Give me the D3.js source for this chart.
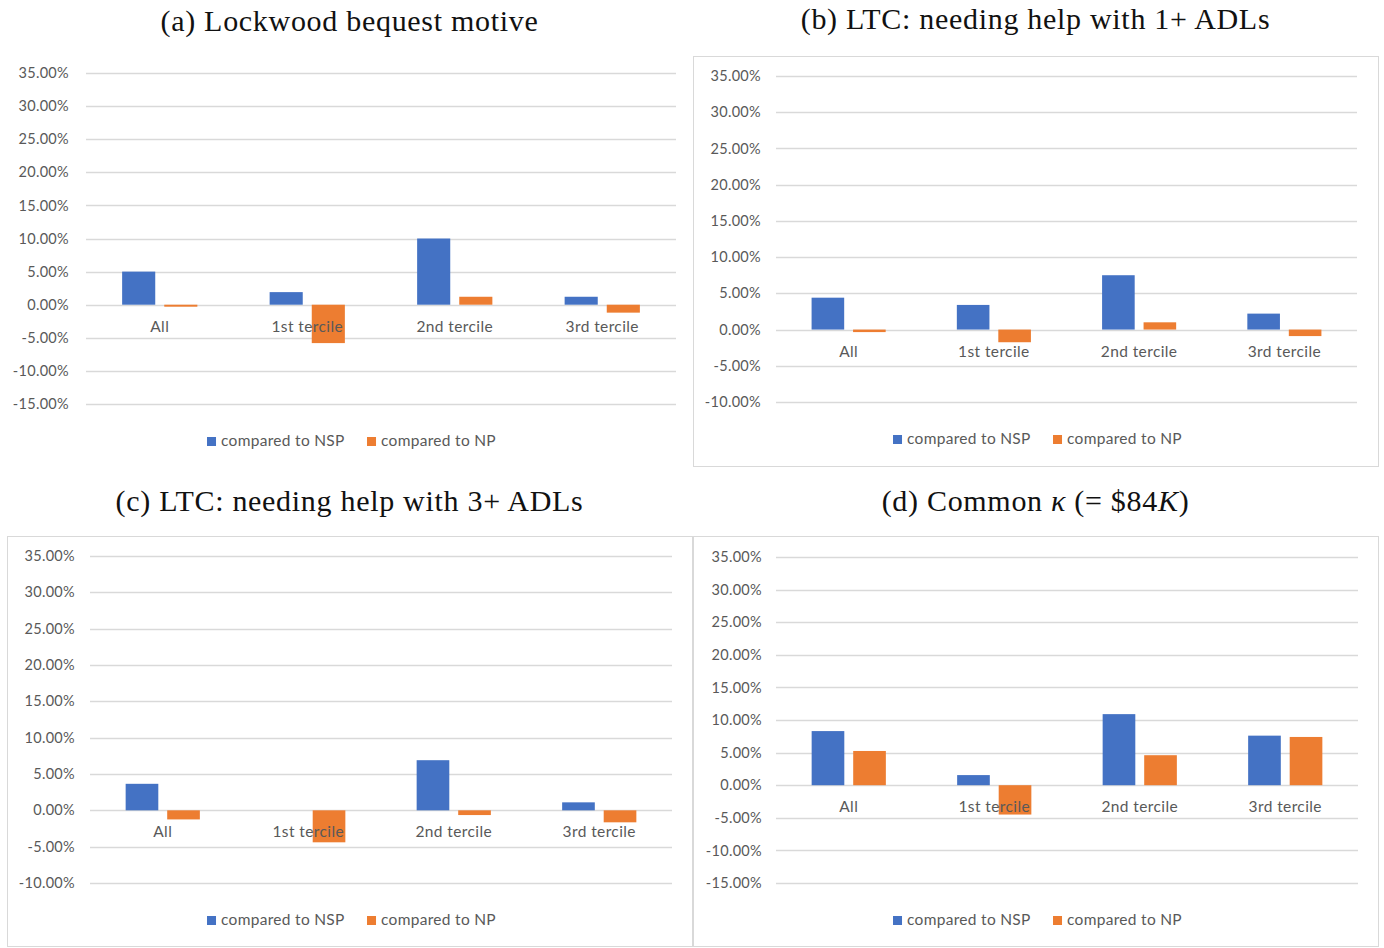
<!DOCTYPE html>
<html>
<head>
<meta charset="utf-8">
<script src="https://cdn.jsdelivr.net/npm/d3@7"></script>
<style>
  body { margin: 0; background: #fff; }
  .tick text { font-family: Lato, "Open Sans", sans-serif; fill: #595959; letter-spacing: 0.3px; }
</style>
</head>
<body>
<div id="chart"></div>
<script>
// data (percent)
var categories = ["All", "1st tercile", "2nd tercile", "3rd tercile"];
var series = ["compared to NSP", "compared to NP"];
var colors = ["#4472C4", "#ED7D31"];

var nspA = [5.0, 1.9, 10.0, 1.2],  npA = [-0.3, -5.8, 1.2, -1.2];
var nspB = [4.4, 3.4, 7.5, 2.2],   npB = [-0.35, -1.75, 1.0, -0.9];
var nspC = [3.65, 0.0, 6.9, 1.1],  npC = [-1.25, -4.4, -0.65, -1.65];
var nspD = [8.3, 1.55, 10.9, 7.6], npD = [5.25, -4.5, 4.6, 7.4];

var ticksA = [35, 30, 25, 20, 15, 10, 5, 0, -5, -10, -15];
var ticksB = [35, 30, 25, 20, 15, 10, 5, 0, -5, -10];

var W = 1384, H = 948;

var svg = d3.select("#chart").append("svg")
  .attr("width", W).attr("height", H);

// panel layout
var panels = [
  {title: "a", nsp: nspA, np: npA, ticks: ticksA, box: [7, 56, 685, 410], border: false,
   plot: {x0: 86, x1: 676, y0: 73, y1: 404}, labelX: 69, titleY: 20},
  {title: "b", nsp: nspB, np: npB, ticks: ticksB, box: [693, 56, 685, 410], border: true,
   plot: {x0: 776, x1: 1357, y0: 76, y1: 402}, labelX: 761, titleY: 18},
  {title: "c", nsp: nspC, np: npC, ticks: ticksB, box: [7, 536, 685, 410], border: true,
   plot: {x0: 90, x1: 672, y0: 556, y1: 883}, labelX: 75, titleY: 500},
  {title: "d", nsp: nspD, np: npD, ticks: ticksA, box: [693, 536, 685, 410], border: true,
   plot: {x0: 776, x1: 1358, y0: 557, y1: 883}, labelX: 762, titleY: 500}
];

function drawTitle(g, p, cx) {
  var t = g.append("text")
    .attr("x", cx).attr("y", p.titleY)
    .attr("dy", "0.35em")
    .attr("text-anchor", "middle")
    .attr("font-family", "'Liberation Serif', 'DejaVu Serif', serif")
    .attr("font-size", 30)
    .attr("letter-spacing", "0.7px")
    .attr("fill", "#111");
  if (p.title == "a") t.text("(a) Lockwood bequest motive");
  if (p.title == "b") t.text("(b) LTC: needing help with 1+ ADLs");
  if (p.title == "c") t.text("(c) LTC: needing help with 3+ ADLs");
  if (p.title == "d") {
    t.append("tspan").text("(d) Common ");
    t.append("tspan").attr("font-style", "italic").text("κ");
    t.append("tspan").text(" (= $84");
    t.append("tspan").attr("font-style", "italic").text("K");
    t.append("tspan").text(")");
  }
}

var pct = function(d) { return d3.format(".2f")(d).replace("\u2212", "-") + "%"; };

panels.forEach(function(p) {
  var g = svg.append("g");
  var cx = p.box[0] + p.box[2] / 2;

  if (p.border) {
    g.append("rect")
      .attr("x", p.box[0] + 0.5).attr("y", p.box[1] + 0.5)
      .attr("width", p.box[2]).attr("height", p.box[3])
      .attr("fill", "none").attr("stroke", "#d9d9d9");
  }

  drawTitle(g, p, cx);

  var y = d3.scaleLinear()
    .domain([d3.max(p.ticks), d3.min(p.ticks)])
    .range([p.plot.y0, p.plot.y1]);

  var x0 = d3.scaleBand()
    .domain(categories)
    .range([p.plot.x0, p.plot.x1])
    .paddingInner(0.49).paddingOuter(0.245);

  var x1 = d3.scaleBand()
    .domain([0, 1])
    .range([0, x0.bandwidth()])
    .paddingInner(0.214);

  // gridlines
  g.append("g").selectAll("line")
    .data(p.ticks).enter()
    .append("line")
      .attr("x1", p.plot.x0).attr("x2", p.plot.x1)
      .attr("y1", function(d) { return Math.round(y(d)) + 0.5; })
      .attr("y2", function(d) { return Math.round(y(d)) + 0.5; })
      .attr("stroke", "#d9d9d9").attr("stroke-width", 1.3);

  // y axis labels
  var yAxis = d3.axisLeft(y)
    .tickValues(p.ticks)
    .tickSize(0).tickPadding(0)
    .tickFormat(pct);

  g.append("g")
    .attr("transform", "translate(" + p.labelX + ",0)")
    .call(yAxis)
    .call(function(a) { a.select(".domain").remove(); })
    .selectAll("text").attr("font-size", 14.5);

  // bars
  var rows = categories.map(function(c, i) { return {cat: c, vals: [p.nsp[i], p.np[i]]}; });

  var grp = g.append("g").selectAll("g")
    .data(rows).enter()
    .append("g")
      .attr("transform", function(d) { return "translate(" + x0(d.cat) + ",0)"; });

  grp.selectAll("rect")
    .data(function(d) { return d.vals; }).enter()
    .append("rect")
      .attr("x", function(d, i) { return x1(i); })
      .attr("width", x1.bandwidth())
      .attr("y", function(d) { return y(Math.max(0, d)); })
      .attr("height", function(d) { return Math.abs(y(d) - y(0)); })
      .attr("fill", function(d, i) { return colors[i]; });

  // category labels
  g.append("g").selectAll("text")
    .data(categories).enter()
    .append("text")
      .attr("x", function(d) { return x0(d) + x0.bandwidth() / 2; })
      .attr("y", y(0) + 27)
      .attr("text-anchor", "middle")
      .attr("font-family", "Lato, 'Open Sans', sans-serif")
      .attr("font-size", 15.5)
      .attr("letter-spacing", "0.4px")
      .attr("fill", "#595959")
      .text(function(d) { return d; });

  // legend
  var ly = p.plot.y1 + 37;
  var legend = g.append("g");
  var items = legend.selectAll("g")
    .data(series).enter()
    .append("g")
      .attr("transform", function(d, i) { return "translate(" + (i * 160) + ",0)"; });
  items.append("rect")
    .attr("x", 0).attr("y", ly - 4)
    .attr("width", 9).attr("height", 9)
    .attr("fill", function(d, i) { return colors[i]; });
  items.append("text")
    .attr("x", 14).attr("y", ly)
    .attr("dy", "0.35em")
    .attr("font-family", "Lato, 'Open Sans', sans-serif")
    .attr("font-size", 15.5)
    .attr("letter-spacing", "0.3px")
    .attr("fill", "#595959")
    .text(function(d) { return d; });
  var bb = legend.node().getBBox();
  legend.attr("transform", "translate(" + (cx - bb.width / 2 + 2) + ",0)");
});
</script>
</body>
</html>
